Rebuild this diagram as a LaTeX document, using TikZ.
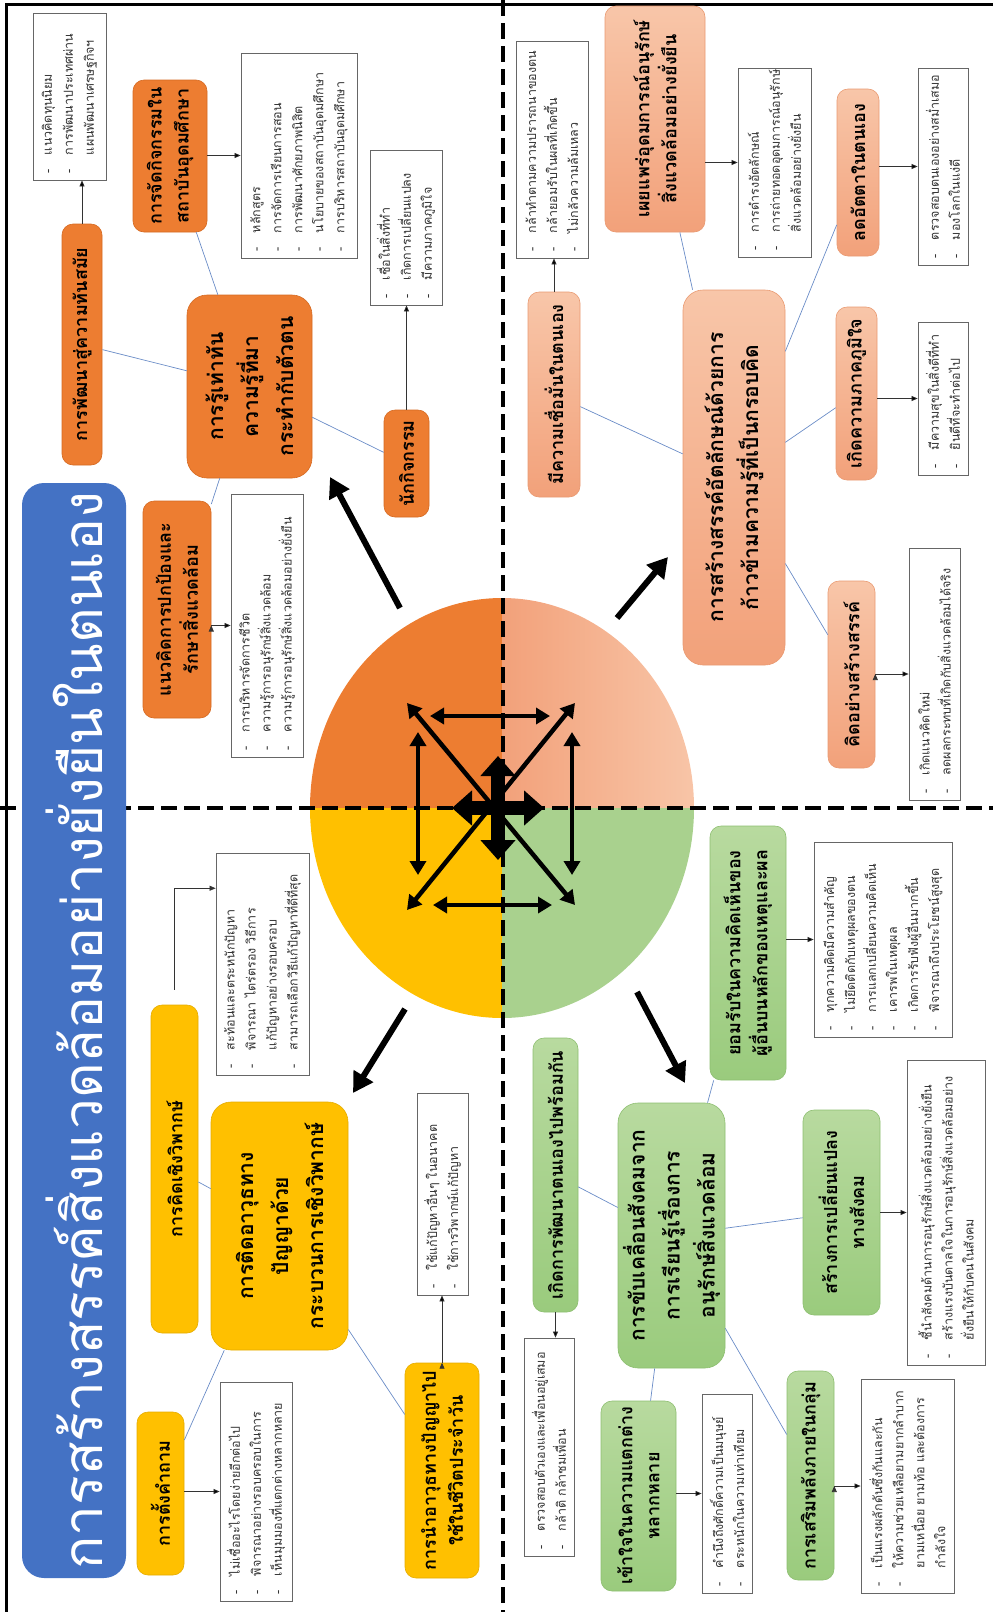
\documentclass[tikz,border=0pt]{standalone}
\usepackage{fontspec}
\setmainfont{Loma}[Script=Thai]
\usetikzlibrary{calc,arrows.meta}

\definecolor{orgc}{HTML}{ED7D31}
\definecolor{orgd}{HTML}{D56A22}
\definecolor{salL}{HTML}{F8C6A9}
\definecolor{salR}{HTML}{F2A17A}
\definecolor{sald}{HTML}{E99A72}
\definecolor{ylwc}{HTML}{FFC000}
\definecolor{ylwd}{HTML}{E5AC00}
\definecolor{grnL}{HTML}{B8DA9F}
\definecolor{grnR}{HTML}{9ACB7D}
\definecolor{grnd}{HTML}{8DBE70}
\definecolor{grnq}{HTML}{A9D18E}
\definecolor{ttlc}{HTML}{4472C4}
\definecolor{linec}{HTML}{6A8CC7}

\newcommand{\itm}{\makebox[18pt][l]{-}}
\newcommand{\itc}{\hspace*{18pt}}

\tikzset{
  box/.style={rotate=90, rounded corners=11pt, align=center, inner sep=2pt, line width=0.6pt,
    font=\bfseries\fontsize{18}{27}\selectfont},
  mainbox/.style={box, rounded corners=20pt, font=\bfseries\fontsize{21}{35}\selectfont},
  lst/.style={rotate=90, draw=black!60, fill=white, line width=0.8pt, align=left,
    inner xsep=7pt, inner ysep=1pt, text=black!80, font=\fontsize{12.5}{21}\selectfont},
  obox/.style={fill=orgc, draw=orgd},
  sbox/.style={top color=salL, bottom color=salR, draw=sald},
  ybox/.style={fill=ylwc, draw=ylwd},
  gbox/.style={top color=grnL, bottom color=grnR, draw=grnd},
  conn/.style={draw=linec, line width=0.7pt},
  ptr/.style={draw=black!80, line width=0.7pt, -{Triangle[length=6pt,width=5pt]}},
  dbl/.style={line width=4.5pt, {Triangle[length=14pt,width=16pt]}-{Triangle[length=14pt,width=16pt]}},
  bigarr/.style={line width=6pt, -{Triangle[length=20pt,width=22pt]}},
  hub/.style={line width=14pt, -{Triangle[length=20pt,width=34pt]}},
  divider/.style={line width=4pt, dash pattern=on 16pt off 7pt},
}

\begin{document}
\begin{tikzpicture}[x=1pt,y=-1pt]
  \useasboundingbox (0,0) rectangle (993,1612);

  % circle
  \begin{scope}
    \clip (502,808) ellipse [x radius=192pt, y radius=210pt];
    \fill[orgc] (300,590) rectangle (502,808);
    \shade[left color=salR, right color=salL] (502,590) rectangle (700,808);
    \fill[ylwc] (300,808) rectangle (502,1025);
    \fill[grnq] (502,808) rectangle (700,1025);
  \end{scope}

  % frame and dividers
  \draw[line width=3pt] (6,1612) -- (6,4) -- (993,4);
  \draw[divider] (503,0) -- (503,1612);
  \draw[divider] (0,808) -- (993,808);

  % title
  \node[rotate=90, fill=ttlc, rounded corners=22pt, minimum width=1095pt, minimum height=104pt,
    text=white, font=\fontsize{55}{60}\selectfont] (ttl) at (74,1030.5)
    {การสร้างสรรค์สิ่งแวดล้อมอย่างยั่งยืนในตนเอง};

  % orange
  \node[mainbox, obox, minimum width=183pt, minimum height=125pt] (oMain) at (249.5,386.5)
    {การรู้เท่าทัน\\ความรู้ที่มา\\กระทำกับตัวตน};
  \node[box, obox, minimum width=241pt, minimum height=40pt] (oMod) at (82,344.5)
    {การพัฒนาสู่ความทันสมัย};
  \node[lst, text width=153pt, minimum height=73pt] (oModL) at (69.5,96.5)
    {\itm แนวคิดทุนนิยม\\ \itm การพัฒนาประเทศผ่าน\\ \itc แผนพัฒนาเศรษฐกิจฯ};
  \node[box, obox, minimum width=152pt, minimum height=74pt] (oAct) at (170,156)
    {การจัดกิจกรรมใน\\สถาบันอุดมศึกษา};
  \node[lst, text width=191pt, minimum height=116pt] (oActL) at (299,155.5)
    {\itm หลักสูตร\\ \itm การจัดการเรียนการสอน\\ \itm การพัฒนาศักยภาพนิสิต\\
     \itm นโยบายของสถาบันอุดมศึกษา\\ \itm การบริหารสถาบันอุดมศึกษา};
  \node[box, obox, minimum width=107pt, minimum height=45pt] (oAgt) at (406.5,463.5)
    {นักกิจกรรม};
  \node[lst, text width=141pt, minimum height=72pt] (oAgtL) at (406,227.5)
    {\itm เชื่อในสิ่งที่ทำ\\ \itm เกิดการเปลี่ยนแปลง\\ \itm มีความภาคภูมิใจ};
  \node[box, obox, minimum width=217pt, minimum height=68pt] (oEnv) at (177,609.5)
    {แนวคิดการปกป้องและ\\รักษาสิ่งแวดล้อม};
  \node[lst, text width=249pt, minimum height=72pt] (oEnvL) at (267,625.5)
    {\itm การบริหารจัดการชีวิต\\ \itm ความรู้การอนุรักษ์สิ่งแวดล้อม\\
     \itm ความรู้การอนุรักษ์สิ่งแวดล้อมอย่างยั่งยืน};
  \path[conn]
  (oMain) edge (oMod)
  (oMain) edge (oAct)
  (oMain) edge (oAgt)
  (oMain) edge (oEnv);
  \path[ptr]
  (oMod.east) edge (oMod.east |- oModL.west)
  (oAct.south |- oActL.north) edge (oActL.north)
  (oAgt.east) edge (oAgt.east |- oAgtL.west)
  (oEnv.south |- oEnvL.north) edge (oEnvL.north);

  % salmon
  \node[mainbox, sbox, minimum width=375pt, minimum height=102pt] (sMain) at (734,477.5)
    {การสร้างสรรค์อัตลักษณ์ด้วยการ\\ก้าวข้ามความรู้ที่เป็นกรอบคิด};
  \node[box, sbox, minimum width=226pt, minimum height=100pt] (sPub) at (655,119)
    {เผยแพร่อุดมการณ์อนุรักษ์\\สิ่งแวดล้อมอย่างยั่งยืน};
  \node[lst, text width=175pt, minimum height=73pt] (sPubL) at (774.5,162.5)
    {\itm การดำรงอัตลักษณ์\\ \itm การถ่ายทอดอุดมการณ์อนุรักษ์\\ \itc สิ่งแวดล้อมอย่างยั่งยืน};
  \node[box, sbox, minimum width=205pt, minimum height=52pt] (sConf) at (554,394.5)
    {มีความเชื่อมั่นในตนเอง};
  \node[lst, text width=203pt, minimum height=72pt] (sConfL) at (552,149.5)
    {\itm กล้าทำตามความปรารถนาของตน\\ \itm กล้ายอมรับในผลที่เกิดขึ้น\\ \itm ไม่กลัวความล้มเหลว};
  \node[box, sbox, minimum width=167pt, minimum height=42pt] (sEgo) at (858,172.5)
    {ลดอัตตาในตนเอง};
  \node[lst, text width=183pt, minimum height=50pt] (sEgoL) at (943,166.5)
    {\itm ตรวจสอบตนเองอย่างสม่ำเสมอ\\ \itm มองโลกในแง่ดี};
  \node[box, sbox, minimum width=173pt, minimum height=41pt] (sPride) at (856.5,393.5)
    {เกิดความภาคภูมิใจ};
  \node[lst, text width=139pt, minimum height=50pt] (sPrideL) at (943,398.5)
    {\itm มีความสุขในสิ่งดีที่ทำ\\ \itm ยินดีที่จะทำต่อไป};
  \node[box, sbox, minimum width=187pt, minimum height=47pt] (sCre) at (851.5,674.5)
    {คิดอย่างสร้างสรรค์};
  \node[lst, text width=238pt, minimum height=51pt] (sCreL) at (934.5,674)
    {\itm เกิดแนวคิดใหม่\\ \itm ลดผลกระทบที่เกิดกับสิ่งแวดล้อมได้จริง};
  \path[conn]
  (sMain) edge (sPub)
  (sMain) edge (sConf)
  (sMain) edge (sEgo)
  (sMain) edge (sPride)
  (sMain) edge (sCre);
  \path[ptr]
  (sPub.south |- sPubL.north) edge (sPubL.north)
  (sConf.east) edge (sConf.east |- sConfL.west)
  (sEgo.south |- sEgoL.north) edge (sEgoL.north)
  (sPride.south |- sPrideL.north) edge (sPrideL.north)
  (sCre.south |- sCreL.north) edge (sCreL.north);

  % yellow
  \node[mainbox, ybox, minimum width=248pt, minimum height=137pt] (yMain) at (279.5,1226)
    {การติดอาวุธทาง\\ปัญญาด้วย\\กระบวนการเชิงวิพากษ์};
  \node[box, ybox, minimum width=328pt, minimum height=47pt] (yCrit) at (174.5,1169)
    {การคิดเชิงวิพากษ์};
  \node[lst, text width=208pt, minimum height=93pt] (yCritL) at (262.5,964)
    {\itm สะท้อนและตระหนักปัญหา\\ \itm พิจารณา ไตร่ตรอง วิธีการ\\ \itc แก้ปัญหาอย่างรอบครอบ\\
     \itm สามารถเลือกวิธีแก้ปัญหาที่ดีที่สุด};
  \node[box, ybox, minimum width=163pt, minimum height=47pt] (yAsk) at (160.5,1493.5)
    {การตั้งคำถาม};
  \node[lst, text width=205pt, minimum height=72pt] (yAskL) at (256,1491.5)
    {\itm ไม่เชื่ออะไรโดยง่ายอีกต่อไป\\ \itm พิจารณาอย่างรอบครอบในการ\\ \itm เห็นมุมมองที่แตกต่างหลากหลาย};
  \node[box, ybox, minimum width=215pt, minimum height=74pt] (yUse) at (442,1470.5)
    {การนำอาวุธทางปัญญาไป\\ใช้ในชีวิตประจำวัน};
  \node[lst, text width=188pt, minimum height=51pt] (yUseL) at (442.5,1194)
    {\itm ใช้แก้ปัญหาอื่นๆ ในอนาคต\\ \itm ใช้การวิพากษ์แก้ปัญหา};
  \path[conn]
  (yMain) edge (yCrit)
  (yMain) edge (yAsk)
  (yMain) edge (yUse);
  \path[ptr]
  (yAsk.south |- yAskL.north) edge (yAskL.north)
  (yUse.east) edge (yUse.east |- yUseL.west);
  \draw[ptr, shorten <=15pt] (yCrit.east) |- ($(yCritL.north east)!0.16!(yCritL.north west)$);

  % green
  \node[mainbox, gbox, minimum width=265pt, minimum height=107pt] (gMain) at (671.5,1235.5)
    {การขับเคลื่อนสังคมจาก\\การเรียนรู้เรื่องการ\\อนุรักษ์สิ่งแวดล้อม};
  \node[box, gbox, minimum width=254pt, minimum height=76pt] (gAcc) at (748,953)
    {ยอมรับในความคิดเห็นของ\\ผู้อื่นบนหลักของเหตุและผล};
  \node[lst, text width=181pt, minimum height=138pt] (gAccL) at (883,939.5)
    {\itm ทุกความคิดมีความสำคัญ\\ \itm ไม่ยึดติดกับเหตุผลของตน\\ \itm การแลกเปลี่ยนความคิดเห็น\\
     \itm เคารพในเหตุผล\\ \itm เกิดการรับฟังผู้อื่นมากขึ้น\\ \itm พิจารณาถึงประโยชน์สูงสุด};
  \node[box, gbox, minimum width=274pt, minimum height=45pt] (gDev) at (555.5,1175)
    {เกิดการพัฒนาตนเองไปพร้อมกัน};
  \node[lst, text width=204pt, minimum height=50pt] (gDevL) at (549,1447)
    {\itm ตรวจสอบตัวเองและเพื่อนอยู่เสมอ\\ \itm กล้าติ กล้าชมเพื่อน};
  \node[box, gbox, minimum width=205pt, minimum height=77pt] (gSoc) at (841.5,1212.5)
    {สร้างการเปลี่ยนแปลง\\ทางสังคม};
  \node[lst, text width=291pt, minimum height=78pt] (gSocL) at (946,1212.5)
    {\itm ชี้นำสังคมด้านการอนุรักษ์สิ่งแวดล้อมอย่างยั่งยืน\\
     \itm สร้างแรงบันดาลใจในการอนุรักษ์สิ่งแวดล้อมอย่าง\\ \itc ยั่งยืนให้กับคนในสังคม};
  \node[box, gbox, minimum width=190pt, minimum height=75pt] (gDiv) at (638.5,1496)
    {เข้าใจในความแตกต่าง\\หลากหลาย};
  \node[lst, text width=185pt, minimum height=50pt] (gDivL) at (727,1493.5)
    {\itm คำนึงถึงศักดิ์ความเป็นมนุษย์\\ \itm ตระหนักในความเท่าเทียม};
  \node[box, gbox, minimum width=209pt, minimum height=47pt] (gGrp) at (810.5,1475.5)
    {การเสริมพลังภายในกลุ่ม};
  \node[lst, text width=200pt, minimum height=93pt] (gGrpL) at (907.5,1486)
    {\itm เป็นแรงผลักดันซึ่งกันและกัน\\ \itm ให้ความช่วยเหลือยามยากลำบาก\\
     \itc ยามเหนื่อย ยามท้อ และต้องการ\\ \itc กำลังใจ};
  \path[conn]
  (gMain) edge (gAcc)
  (gMain) edge (gDev)
  (gMain) edge (gSoc)
  (gMain) edge (gDiv)
  (gMain) edge (gGrp);
  \path[ptr]
  (gAcc.south |- gAccL.north) edge (gAccL.north)
  (gDev.west) edge (gDev.west |- gDevL.east)
  (gSoc.south |- gSocL.north) edge (gSocL.north)
  (gDiv.south |- gDivL.north) edge (gDivL.north)
  (gGrp.south |- gGrpL.north) edge (gGrpL.north);

  % arrows in the circle
  \coordinate (hub) at (498,808);
  \coordinate (hubN) at (498,756);
  \coordinate (hubS) at (498,860);
  \coordinate (hubW) at (452,808);
  \coordinate (hubE) at (544,808);
  \coordinate (sqA1) at (430,716); \coordinate (sqA2) at (550,716);
  \coordinate (sqB1) at (433,905); \coordinate (sqB2) at (552,905);
  \coordinate (sqC1) at (418,732); \coordinate (sqC2) at (418,875);
  \coordinate (sqD1) at (572,732); \coordinate (sqD2) at (572,875);
  \coordinate (dgA1) at (407,703); \coordinate (dgA2) at (575,905);
  \coordinate (dgB1) at (575,703); \coordinate (dgB2) at (407,910);
  \path[dbl]
  (sqA1) edge (sqA2)
  (sqB1) edge (sqB2)
  (sqC1) edge (sqC2)
  (sqD1) edge (sqD2)
  (dgA1) edge (dgA2)
  (dgB1) edge (dgB2);
  \path[hub]
  (hub) edge (hubN)
  (hub) edge (hubS)
  (hub) edge (hubW)
  (hub) edge (hubE);

  % arrows out of the circle
  \coordinate (oOut1) at (400,608); \coordinate (oOut2) at (330,477);
  \coordinate (sOut1) at (617,618); \coordinate (sOut2) at (668,557);
  \coordinate (yOut1) at (405,1009); \coordinate (yOut2) at (353,1093);
  \coordinate (gOut1) at (637,992); \coordinate (gOut2) at (685,1083);
  \path[bigarr]
  (oOut1) edge (oOut2)
  (sOut1) edge (sOut2)
  (yOut1) edge (yOut2)
  (gOut1) edge (gOut2);
\end{tikzpicture}
\end{document}
